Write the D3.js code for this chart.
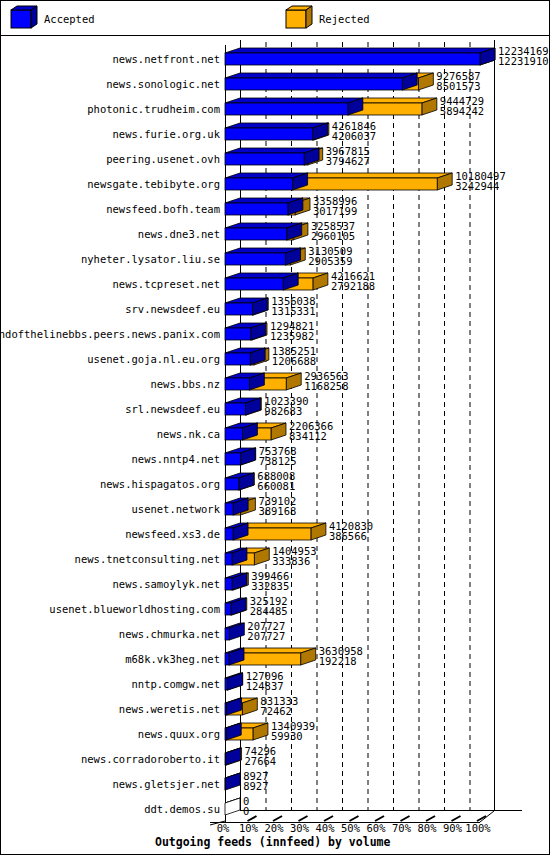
<!DOCTYPE html>
<html><head><meta charset="utf-8">
<script src="https://cdn.jsdelivr.net/npm/d3@7"></script>
<style>body{margin:0;background:#fff}text{font-family:"DejaVu Sans Mono",monospace;font-size:10.5px}</style>
</head><body><svg id="c" width="550" height="855"></svg>
<script>
var hosts = ["news.netfront.net","news.sonologic.net","photonic.trudheim.com","news.furie.org.uk","peering.usenet.ovh","newsgate.tebibyte.org","newsfeed.bofh.team","news.dne3.net","nyheter.lysator.liu.se","news.tcpreset.net","srv.newsdeef.eu","endofthelinebbs.peers.news.panix.com","usenet.goja.nl.eu.org","news.bbs.nz","srl.newsdeef.eu","news.nk.ca","news.nntp4.net","news.hispagatos.org","usenet.network","newsfeed.xs3.de","news.tnetconsulting.net","news.samoylyk.net","usenet.blueworldhosting.com","news.chmurka.net","m68k.vk3heg.net","nntp.comgw.net","news.weretis.net","news.quux.org","news.corradoroberto.it","news.gletsjer.net","ddt.demos.su"];
var totals = [12234169,9276587,9444729,4261846,3967815,10180497,3358996,3258537,3130509,4216621,1356038,1294821,1385251,2936563,1023390,2206366,753768,688008,739102,4120830,1404953,399466,325192,207727,3630958,127096,831333,1340939,74296,8927,0];
var accepted = [12231910,8501573,5894242,4206037,3794627,3242944,3017199,2960105,2905359,2792188,1315331,1235982,1206688,1168258,982683,834112,738125,660081,389168,386566,333836,332835,284485,207727,192218,124837,72462,59930,27664,8927,0];
var ticks = [0,10,20,30,40,50,60,70,80,90,100];

var svg = d3.select("#c");
var dx = 15, dy = 5, bh = 12;
var x = d3.scaleLinear().domain([0, d3.max(totals)]).range([225, 480]);
var xp = d3.scaleLinear().domain([0, 100]).range([225, 480]);
var y = d3.scalePoint().domain(hosts).range([59, 809]);
var plotTop = 40, floorY = 822;

svg.append("rect").attr("x",0.5).attr("y",0.5).attr("width",549).attr("height",854).attr("fill","none").attr("stroke","#000");
svg.append("line").attr("x1",0).attr("x2",550).attr("y1",35.5).attr("y2",35.5).attr("stroke","#000");

var colors = {acc:["#0000ff","#0000c8","#00009a"], rej:["#ffb000","#ffb000","#b07800"]};

function box(g, x0, x1, yc, c) {
  var t = yc - bh/2, b = yc + bh/2;
  g.append("polygon").attr("points",[[x0,t],[x0+dx,t-dy],[x1+dx,t-dy],[x1,t]].join(" ")).attr("fill",c[1]).attr("stroke","#000").attr("stroke-width",0.8);
  g.append("polygon").attr("points",[[x1,t],[x1+dx,t-dy],[x1+dx,b-dy],[x1,b]].join(" ")).attr("fill",c[2]).attr("stroke","#000").attr("stroke-width",0.8);
  g.append("rect").attr("x",x0).attr("y",t).attr("width",x1-x0).attr("height",bh).attr("fill",c[0]).attr("stroke","#000").attr("stroke-width",0.8);
}

// legend
var lg = svg.append("g");
[["Accepted",colors.acc,11],["Rejected",colors.rej,286]].forEach(function(l){
  var c = l[1], lx = l[2];
  lg.append("rect").attr("x",lx).attr("y",10).attr("width",20).attr("height",18).attr("fill",c[0]).attr("stroke","#000");
  lg.append("polygon").attr("points",[[lx,10],[lx+6,6],[lx+26,6],[lx+20,10]].join(" ")).attr("fill",c[1]).attr("stroke","#000");
  lg.append("polygon").attr("points",[[lx+20,10],[lx+26,6],[lx+26,24],[lx+20,28]].join(" ")).attr("fill",c[2]).attr("stroke","#000");
  lg.append("text").attr("x",lx+33).attr("y",23).text(l[0]);
});

// walls and grid
var gw = svg.append("g").attr("stroke","#000").attr("fill","none");
gw.append("line").attr("x1",225.5).attr("x2",225.5).attr("y1",plotTop+5).attr("y2",floorY);
gw.append("line").attr("x1",240.5).attr("x2",240.5).attr("y1",plotTop).attr("y2",floorY-dy-6);
gw.append("line").attr("x1",494.5).attr("x2",494.5).attr("y1",plotTop).attr("y2",floorY-dy-6);
ticks.slice(1,10).forEach(function(t){
  gw.append("line").attr("x1",xp(t)+dx+0.5).attr("x2",xp(t)+dx+0.5).attr("y1",plotTop+2).attr("y2",floorY-dy-6).attr("stroke-dasharray","5,4");
});
// floor
gw.append("line").attr("x1",210).attr("x2",480).attr("y1",floorY+0.5).attr("y2",floorY+0.5);
gw.append("line").attr("x1",240).attr("x2",522).attr("y1",floorY-11.5).attr("y2",floorY-11.5);
gw.append("line").attr("x1",480).attr("x2",494).attr("y1",floorY).attr("y2",floorY-11);
gw.append("line").attr("x1",210).attr("x2",225).attr("y1",floorY+3).attr("y2",floorY-1);
ticks.slice(1).forEach(function(t){
  gw.append("line").attr("x1",xp(t)-3).attr("x2",xp(t)+dx-9).attr("y1",floorY-1).attr("y2",floorY-6).attr("stroke-width",2);
});
var gt = svg.append("g");
ticks.forEach(function(t){
  gt.append("text").attr("x",xp(t)-2).attr("y",832).attr("text-anchor","middle").text(t+"%");
});
gt.append("text").attr("x",155).attr("y",846).attr("font-weight","bold").style("font-size","11.5px").text("Outgoing feeds (innfeed) by volume");

// bars
var gb = svg.append("g");
hosts.forEach(function(h, i){
  var yc = y(h);
  gb.append("text").attr("x",220).attr("y",yc+3.5).attr("text-anchor","end").text(h);
  if (totals[i] === 0) {
    box(gb, x(0), x(0), yc, ["#fff","#fff","#fff"]);
  } else {
    if (totals[i] > accepted[i]) box(gb, x(accepted[i]), x(totals[i]), yc, colors.rej);
    box(gb, x(0), x(accepted[i]), yc, colors.acc);
  }
  var lx = x(totals[i]) + dx + 3;
  gb.append("text").attr("x",lx).attr("y",yc-4.5).text(totals[i]);
  gb.append("text").attr("x",lx).attr("y",yc+6).text(accepted[i]);
});
</script></body></html>
